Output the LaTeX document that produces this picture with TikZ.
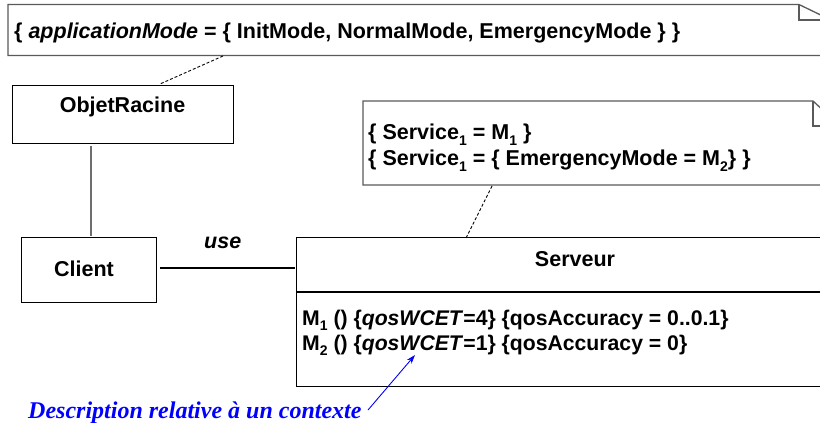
\documentclass[tikz,border=0pt]{standalone}
\usepackage{fontspec}
\setmainfont{Liberation Sans}
\newfontfamily\timesf{Liberation Serif}
\usetikzlibrary{arrows.meta,calc}
\definecolor{notegray}{RGB}{90,90,90}
\definecolor{lnkgray}{RGB}{110,110,110}
\newcommand{\lowidx}[1]{\raisebox{-0.28em}{\fontsize{14}{14}\selectfont #1}}
\tikzset{
  box/.style={draw=black, line width=1.1pt, inner sep=0pt, anchor=north west},
  notebox/.style={draw=notegray, line width=1.3pt},
  txt/.style={inner sep=0pt, anchor=base west, font=\fontsize{21.5}{24}\selectfont\bfseries},
  ctxt/.style={inner sep=0pt, anchor=base, font=\fontsize{21.5}{24}\selectfont\bfseries},
  mtxt/.style={inner sep=0pt, anchor=base west, text height=15pt, text depth=4pt, font=\fontsize{21.2}{24}\selectfont\bfseries},
  dashlink/.style={draw=black, line width=0.9pt, dash pattern=on 3pt off 2pt},
  plainlink/.style={draw=black, line width=1.1pt},
  graylink/.style={draw=lnkgray, line width=1.3pt},
  bluearrow/.style={draw=blue, line width=0.9pt, -{Stealth[length=9pt,width=6pt]}}
}
\begin{document}
\begin{tikzpicture}[x=1pt,y=-1pt]
\useasboundingbox (0,0) rectangle (820,423);
\clip (0,0) rectangle (820,423);
\fill[white] (0,0) rectangle (820,423);
% top note
\draw[notebox] (831,20) -- (831,55.5) -- (8,55.5) -- (8,4.5) -- (799,4.5) -- (831,20);
\draw[notebox] (799,4.5) -- (799,20) -- (831,20);
\node[txt] (appmode) at (14,38.5) {\{ \textit{applicationMode} = \{ InitMode, NormalMode, EmergencyMode \} \}};
\coordinate (noteA) at (223,56);
% service note
\draw[notebox] (840,126) -- (840,185) -- (363,185) -- (363,101) -- (813,101) -- (840,126);
\draw[notebox] (813,101) -- (813,126) -- (840,126);
\node[txt, text height=15pt, text depth=4pt] (svc1) at (368,139.5) {\{ Service\lowidx{1} = M\lowidx{1} \}};
\node[txt, text height=15pt, text depth=4pt] (svc2) at (368,165.5) {\{ Service\lowidx{1} = \{ EmergencyMode = M\lowidx{2}\} \}};
\coordinate (noteB) at (492,186);
% ObjetRacine
\node[box, minimum width=221pt, minimum height=58pt] (objet) at (12,85) {};
\node[ctxt] (objetlbl) at (122.5,112.5) {ObjetRacine};
% Client
\node[box, minimum width=135pt, minimum height=65pt] (client) at (21,237) {};
\node[ctxt] (clientlbl) at (84,276) {Client};
% Serveur
\node[box, minimum width=560pt, minimum height=149pt] (serveur) at (296,237) {};
\draw[line width=1.1pt] (296,292) -- (840,292);
\node[ctxt] (serveurlbl) at (575,266.5) {Serveur};
\node[mtxt] (m1) at (302,325) {M\lowidx{1} () \{\textit{qosWCET}=4\} \{qosAccuracy = 0..0.1\}};
\node[mtxt] (m2) at (302,350) {M\lowidx{2} () \{\textit{qosWCET}=1\} \{qosAccuracy = 0\}};
% connectors
\coordinate (objbot) at (91,146);
\coordinate (clitop) at (91,236);
\draw[graylink] (objbot) -- (clitop);
\coordinate (cliR) at (160,268);
\coordinate (srvL) at (295,268);
\draw[plainlink] (cliR) -- (srvL);
\node[txt, font=\fontsize{21.5}{24}\selectfont\bfseries\itshape] (use) at (204,248) {use};
\coordinate (objtop) at (160,84);
\draw[dashlink] (noteA) -- (objtop);
\coordinate (srvtop) at (466,238);
\draw[dashlink] (noteB) -- (srvtop);
% blue annotation
\node[inner sep=0pt, anchor=base west, text=blue, font=\timesf\fontsize{24}{28}\selectfont\bfseries\itshape] (ctx) at (28,418) {Description relative à un contexte};
\coordinate (arrS) at (368,410);
\coordinate (arrE) at (415,355);
\draw[bluearrow] (arrS) -- (arrE);
\end{tikzpicture}
\end{document}
